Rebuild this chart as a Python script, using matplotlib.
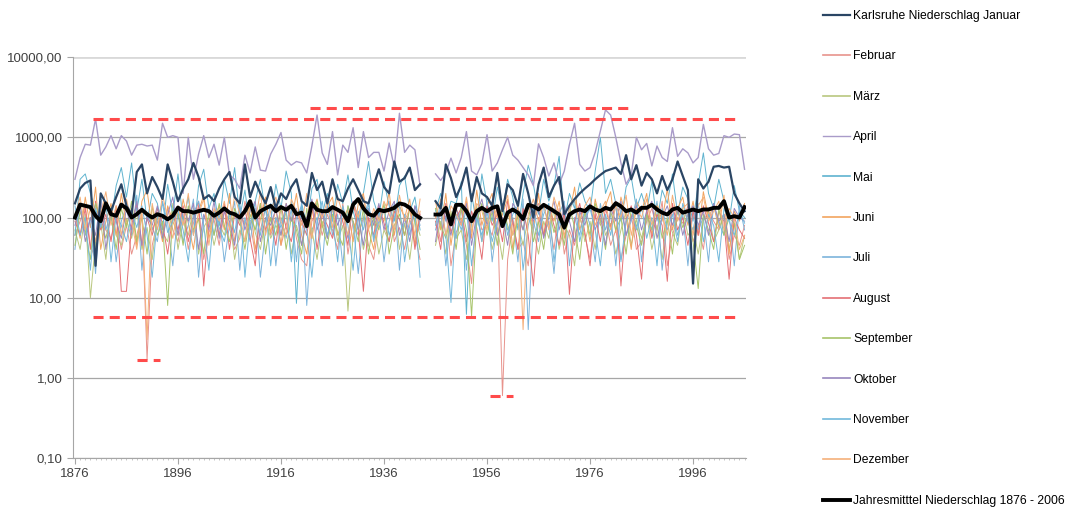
import numpy as np
import matplotlib
matplotlib.use("Agg")
from matplotlib import pyplot as plt
from matplotlib.ticker import FixedLocator, MultipleLocator

nan = float('nan')

years = list(range(1876, 2007))

# monthly series (1944/45 missing)
januar = [150, 230, 270, 290, 25, 200, 150, 120, 180, 260,
          140, 110, 370, 460, 200, 320, 240, 170, 460, 280,
          160, 230, 300, 480, 320, 170, 190, 160, 230, 300,
          370, 180, 150, 460, 180, 280, 200, 150, 240, 130,
          200, 170, 240, 300, 160, 140, 360, 220, 280, 150,
          300, 170, 160, 230, 300, 220, 160, 150, 250, 400,
          240, 200, 500, 280, 310, 420, 220, 260, nan, nan,
          160, 130, 460, 310, 180, 250, 420, 160, 320, 200,
          180, 140, 360, 120, 260, 220, 140, 350, 200, 100,
          260, 420, 180, 250, 320, 110, 140, 170, 200, 230,
          260, 300, 340, 380, 400, 420, 350, 600, 300, 450,
          250, 360, 300, 200, 330, 220, 300, 500, 330, 220,
          15, 300, 230, 280, 430, 440, 420, 430, 200, 150,
          120]
februar = [60, 90, 140, 45, 30, 120, 70, 55, 100, 40,
           80, 35, 60, 110, 1.7, 45, 90, 60, 130, 70,
           50, 110, 40, 85, 140, 30, 65, 95, 45, 120,
           75, 40, 55, 160, 90, 35, 70, 130, 60, 100,
           45, 80, 150, 55, 30, 25, 90, 120, 60, 110,
           70, 40, 150, 35, 90, 60, 100, 45, 30, 85,
           120, 160, 50, 75, 40, 95, 60, 30, nan, nan,
           110, 50, 140, 25, 65, 90, 45, 15, 130, 70,
           80, 60, 140, 0.6, 30, 90, 40, 50, 25, 120,
           150, 60, 90, 40, 130, 35, 70, 45, 100, 60,
           30, 120, 80, 100, 45, 70, 30, 60, 110, 40,
           50, 90, 130, 70, 160, 25, 60, 100, 85, 140,
           50, 80, 40, 120, 90, 70, 110, 30, 60, 45,
           80]
maerz = [70, 40, 110, 10, 50, 85, 30, 140, 60, 45,
         95, 55, 120, 40, 75, 30, 110, 65, 50, 150,
         40, 90, 60, 130, 35, 75, 100, 45, 85, 60,
         110, 30, 70, 50, 140, 65, 40, 95, 55, 80,
         60, 120, 35, 80, 45, 100, 70, 30, 90, 55,
         130, 50, 80, 6.8, 60, 110, 40, 75, 95, 35,
         70, 50, 140, 40, 85, 30, 100, 60, nan, nan,
         45, 90, 35, 120, 55, 70, 30, 85, 140, 50,
         100, 40, 75, 30, 120, 60, 85, 45, 100, 70,
         35, 90, 55, 130, 40, 80, 60, 25, 110, 50,
         90, 40, 130, 60, 85, 35, 70, 120, 45, 95,
         55, 110, 40, 80, 30, 100, 65, 45, 130, 60,
         75, 35, 90, 120, 50, 70, 110, 40, 85, 30,
         60]
april = [300, 560, 820, 800, 1700, 600, 760, 1050, 720, 1050,
         900, 600, 800, 820, 780, 800, 520, 1500, 1000, 1050,
         1000, 200, 1000, 300, 620, 1050, 560, 820, 450, 1000,
         340, 300, 230, 600, 360, 760, 390, 380, 620, 820,
         1150, 520, 450, 500, 480, 360, 780, 1900, 640, 460,
         1180, 340, 800, 650, 1320, 420, 1180, 560, 650, 650,
         380, 850, 420, 2000, 650, 800, 700, 250, nan, nan,
         350, 290, 360, 550, 360, 560, 1180, 380, 340, 470,
         1080, 380, 480, 700, 1000, 600, 520, 420, 340, 250,
         830, 560, 330, 480, 260, 380, 820, 1500, 460, 380,
         420, 650, 1200, 2200, 1900, 1000, 480, 260, 340, 1000,
         700, 840, 440, 780, 560, 500, 1320, 580, 720, 640,
         480, 560, 1450, 720, 600, 630, 1050, 1000, 1100, 1080,
         400]
mai = [60, 300, 350, 200, 120, 80, 150, 90, 250, 420,
       180, 480, 120, 300, 90, 200, 150, 70, 260, 110,
       350, 90, 180, 60, 250, 400, 130, 200, 80, 300,
       150, 420, 100, 220, 70, 160, 300, 120, 90, 260,
       130, 380, 200, 8.5, 150, 80, 230, 300, 110, 200,
       90, 260, 150, 340, 120, 70, 200, 500, 160, 100,
       280, 140, 90, 250, 330, 120, 180, 70, nan, nan,
       120, 200, 90, 160, 150, 280, 6.2, 200, 80, 350,
       150, 90, 240, 120, 300, 180, 70, 200, 450, 260,
       110, 300, 160, 250, 580, 90, 200, 130, 270, 160,
       120, 380, 1000, 200, 300, 150, 90, 240, 320, 130,
       200, 120, 280, 90, 220, 150, 350, 110, 240, 170,
       90, 260, 640, 200, 130, 300, 160, 90, 250, 120,
       100]
juni = [110, 55, 180, 75, 240, 40, 90, 150, 60, 200,
        80, 130, 45, 160, 220, 70, 100, 50, 140, 90,
        60, 170, 85, 40, 120, 190, 55, 100, 140, 70,
        200, 50, 120, 80, 160, 40, 95, 180, 65, 130,
        45, 150, 90, 200, 60, 35, 110, 170, 75, 140,
        180, 60, 95, 130, 50, 150, 200, 70, 40, 110,
        90, 210, 60, 140, 100, 170, 45, 120, nan, nan,
        160, 70, 200, 45, 130, 90, 160, 55, 220, 80,
        140, 200, 60, 110, 170, 40, 130, 90, 150, 70,
        200, 60, 130, 90, 160, 55, 110, 240, 70, 120,
        50, 170, 90, 140, 210, 65, 180, 100, 40, 160,
        120, 200, 60, 150, 90, 230, 70, 130, 180, 80,
        160, 60, 210, 100, 140, 75, 190, 35, 120, 90,
        150]
juli = [40, 150, 60, 100, 20, 180, 70, 120, 28, 90,
        140, 60, 190, 22, 110, 75, 50, 160, 85, 25,
        120, 50, 80, 170, 18, 95, 140, 60, 110, 28,
        80, 160, 22, 100, 50, 130, 18, 70, 150, 25,
        100, 55, 130, 28, 160, 8, 70, 100, 25, 150,
        60, 110, 25, 140, 85, 20, 100, 160, 50, 120,
        28, 90, 150, 22, 110, 60, 140, 80, nan, nan,
        70, 130, 25, 100, 55, 150, 22, 90, 120, 50,
        160, 28, 90, 130, 70, 100, 28, 170, 4, 90,
        50, 140, 80, 20, 110, 160, 25, 100, 60, 130,
        80, 28, 150, 70, 110, 25, 130, 60, 90, 170,
        28, 110, 70, 160, 22, 90, 130, 60, 110, 25,
        130, 70, 100, 28, 150, 85, 60, 110, 25, 140,
        70]
august = [90, 60, 130, 40, 160, 70, 110, 50, 140, 12,
          12, 80, 150, 45, 100, 60, 130, 85, 35, 110,
          70, 140, 50, 100, 160, 14, 90, 120, 60, 150,
          40, 110, 80, 130, 55, 25, 150, 70, 100, 45,
          140, 75, 50, 120, 90, 60, 160, 40, 110, 80,
          55, 130, 90, 45, 160, 70, 12, 100, 60, 140,
          85, 50, 120, 95, 60, 140, 40, 110, nan, nan,
          90, 40, 150, 65, 100, 130, 50, 120, 75, 30,
          140, 80, 110, 50, 160, 90, 40, 130, 60, 14,
          100, 60, 140, 80, 45, 120, 11, 90, 150, 65,
          25, 110, 50, 130, 75, 160, 14, 95, 140, 60,
          17, 130, 55, 110, 80, 16, 150, 70, 100, 45,
          120, 60, 140, 85, 50, 120, 90, 17, 100, 70,
          55]
september = [45, 120, 70, 30, 150, 90, 55, 110, 40, 130,
             75, 160, 50, 100, 35, 140, 60, 90, 8, 120,
             110, 45, 140, 70, 95, 35, 120, 60, 150, 80,
             50, 130, 90, 40, 110, 70, 150, 35, 100, 60,
             140, 40, 100, 70, 35, 130, 55, 160, 80, 45,
             110, 65, 45, 140, 90, 50, 130, 35, 100, 70,
             150, 35, 80, 110, 60, 130, 90, 40, nan, nan,
             130, 80, 55, 110, 40, 140, 70, 5.9, 90, 150,
             60, 120, 45, 140, 80, 35, 110, 70, 150, 50,
             90, 40, 130, 65, 100, 45, 140, 75, 30, 120,
             60, 150, 90, 40, 120, 70, 100, 35, 130, 80,
             45, 110, 70, 140, 55, 95, 35, 130, 75, 110,
             50, 13, 110, 70, 40, 130, 60, 100, 85, 30,
             45]
oktober = [80, 140, 50, 100, 60, 170, 40, 120, 90, 55,
           130, 70, 160, 45, 100, 80, 140, 55, 110, 180,
           60, 130, 90, 150, 40, 110, 70, 160, 55, 120,
           90, 45, 140, 70, 120, 160, 50, 100, 80, 130,
           60, 150, 90, 130, 45, 100, 170, 70, 120, 55,
           140, 80, 120, 55, 160, 100, 45, 130, 80, 150,
           70, 120, 160, 60, 100, 50, 140, 90, nan, nan,
           50, 140, 100, 60, 130, 80, 150, 45, 110, 170,
           80, 130, 60, 100, 45, 150, 120, 70, 140, 90,
           130, 55, 100, 160, 70, 140, 90, 50, 120, 80,
           150, 70, 110, 45, 130, 90, 160, 60, 100, 140,
           70, 120, 160, 55, 100, 140, 80, 130, 60, 110,
           140, 80, 120, 60, 150, 90, 110, 50, 130, 100,
           90]
november = [140, 60, 100, 22, 130, 75, 160, 28, 110, 80,
            50, 120, 75, 140, 60, 18, 100, 150, 65, 90,
            130, 70, 28, 110, 160, 80, 22, 120, 75, 50,
            120, 65, 150, 18, 90, 110, 60, 140, 25, 100,
            75, 130, 28, 100, 140, 70, 18, 90, 160, 60,
            100, 28, 140, 80, 22, 120, 70, 150, 55, 90,
            130, 60, 100, 150, 28, 80, 120, 18, nan, nan,
            80, 150, 60, 8.7, 110, 70, 130, 25, 100, 60,
            120, 50, 90, 150, 60, 110, 140, 22, 80, 130,
            60, 110, 150, 28, 90, 70, 130, 160, 50, 100,
            130, 70, 25, 110, 60, 150, 28, 90, 130, 70,
            140, 55, 100, 25, 130, 70, 110, 50, 150, 90,
            70, 150, 50, 110, 80, 28, 130, 90, 60, 120,
            85]
dezember = [100, 180, 70, 130, 50, 110, 210, 80, 140, 60,
            170, 90, 40, 120, 3, 150, 70, 190, 100, 55,
            140, 80, 200, 60, 110, 170, 45, 130, 90, 160,
            70, 190, 110, 50, 150, 90, 210, 60, 120, 180,
            90, 60, 170, 120, 80, 200, 55, 140, 100, 160,
            75, 180, 110, 60, 150, 100, 190, 70, 130, 90,
            160, 110, 70, 190, 90, 130, 60, 170, nan, nan,
            100, 170, 60, 140, 110, 80, 180, 65, 150, 120,
            70, 160, 100, 130, 190, 60, 140, 4, 110, 170,
            90, 150, 70, 180, 110, 60, 130, 170, 90, 140,
            180, 80, 120, 160, 70, 140, 100, 190, 60, 130,
            100, 170, 80, 140, 110, 60, 190, 90, 130, 150,
            60, 140, 180, 90, 120, 160, 70, 130, 100, 40,
            60]
jahresmittel = [100, 145, 140, 135, 105, 90, 150, 110, 105, 145,
                130, 100, 110, 125, 110, 100, 110, 105, 95, 105,
                133, 120, 120, 115, 120, 125, 120, 105, 115, 130,
                115, 110, 100, 120, 160, 100, 120, 130, 140, 120,
                135, 125, 140, 110, 115, 78, 150, 125, 120, 120,
                135, 125, 115, 90, 145, 170, 130, 110, 105, 125,
                120, 125, 132, 150, 145, 132, 109, 99, nan, nan,
                109, 109, 132, 82, 144, 144, 120, 90, 120, 132,
                120, 132, 138, 78, 115, 126, 115, 96, 144, 138,
                126, 144, 132, 120, 109, 75, 109, 120, 126, 120,
                138, 126, 120, 132, 126, 151, 138, 120, 126, 115,
                132, 132, 144, 126, 115, 109, 126, 132, 115, 120,
                126, 120, 126, 126, 132, 132, 160, 100, 104, 100,
                135]

labels = ["Karlsruhe Niederschlag Januar", "Februar", "März", "April", "Mai",
          "Juni", "Juli", "August", "September", "Oktober", "November",
          "Dezember", "Jahresmitttel Niederschlag 1876 - 2006"]
colors = ["#2a4564", "#e8938c", "#b9c77f", "#a99bc9", "#5fb3cf", "#f2a45f",
          "#7db4db", "#e46f74", "#a7c46a", "#9786bd", "#72b9dc", "#f5b07a",
          "#000000"]
widths = [1.6, 0.7, 0.7, 1.0, 0.7, 0.7, 0.7, 0.7, 0.7, 0.7, 0.7, 0.7, 2.8]

# red dashed marker lines: level, start year, end year
ref_levels = [1700, 2350, 5.7, 1.65, 0.6]
ref_start = [1879.5, 1921.6, 1879.5, 1888.0, 1956.6]
ref_end = [2005.1, 1983.4, 2004.5, 1892.5, 1961.0]

series = [januar, februar, maerz, april, mai, juni, juli, august,
          september, oktober, november, dezember, jahresmittel]

plt.rcParams['font.family'] = ['Liberation Sans', 'DejaVu Sans']

fig = plt.figure(figsize=(10.72, 5.08), dpi=100)
ax = fig.add_axes([0.068, 0.0984, 0.628, 0.789])

handles = []
zorders = [5, 2, 2, 4, 2, 2, 2, 2, 2, 2, 2, 2, 6]
for s, lab, c, w, z in zip(series, labels, colors, widths, zorders):
    h, = ax.plot(years, s, color=c, lw=w, label=lab, zorder=z)
    handles.append(h)

for lv, x0, x1 in zip(ref_levels, ref_start, ref_end):
    ax.plot([x0, x1], [lv, lv], color="#ff4b4b", lw=2.2,
            dashes=(3.3, 2.0), zorder=7, solid_capstyle='butt')

ax.set_yscale('log')
ax.set_ylim(0.1, 10000)
ax.set_xlim(1875.6, 2006.3)
ax.yaxis.set_major_locator(FixedLocator([0.1, 1, 10, 100, 1000, 10000]))
ax.yaxis.set_minor_locator(FixedLocator([]))
ax.set_yticklabels(["0,10", "1,00", "10,00", "100,00", "1000,00", "10000,00"])
ax.set_xticks(range(1876, 2007, 20))
ax.xaxis.set_minor_locator(MultipleLocator(1))
ax.grid(axis='y', color="#a6a6a6", lw=0.9, zorder=0)
ax.set_axisbelow(True)
top_grid = ax.get_ygridlines()[-1]
top_grid.set_color("#d9d9d9")
top_grid.set_linewidth(2)

for side in ['top', 'right']:
    ax.spines[side].set_visible(False)
for side in ['left', 'bottom']:
    ax.spines[side].set_color("#a6a6a6")
ax.tick_params(axis='both', which='major', colors="#a6a6a6", labelcolor="#404040",
               labelsize=9.5, length=4)
ax.tick_params(axis='x', which='minor', colors="#bdbdbd", length=1.5)

leg = fig.legend(handles, labels, loc='upper left',
                 bbox_to_anchor=(823 / 1072, 1 - 10 / 508),
                 frameon=False, fontsize=8.7, handlelength=2.2, handletextpad=0.3,
                 labelspacing=2.35, borderpad=0, borderaxespad=0)
for line in leg.get_lines():
    if line.get_linewidth() < 1:
        line.set_linewidth(1.2)

fig.savefig("out.png", dpi=100)
